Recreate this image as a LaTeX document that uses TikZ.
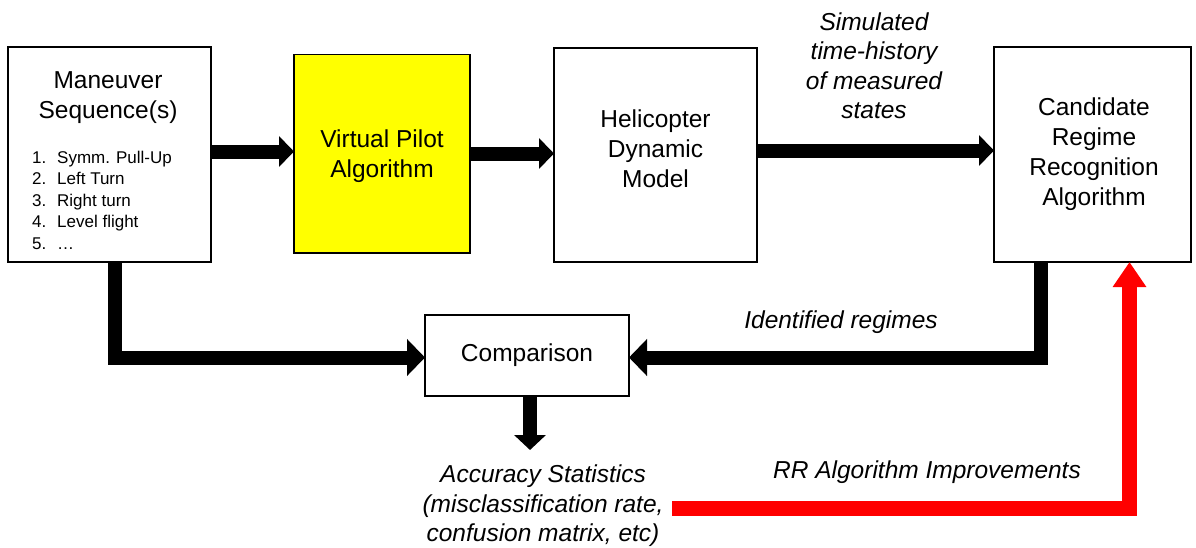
\documentclass[tikz,border=0pt]{standalone}
\usepackage{fontspec}
\setmainfont{Liberation Sans}
\usetikzlibrary{arrows.meta}
\definecolor{pilotyellow}{RGB}{255,255,0}
\definecolor{rrred}{RGB}{255,0,0}
\newcommand{\itemno}[1]{\makebox[25pt][l]{#1}}

\begin{document}
\begin{tikzpicture}[x=1pt,y=-1pt,
  box/.style={draw, line width=1.3pt, inner sep=0pt, outer sep=0pt},
  lbl/.style={font=\fontsize{24.5}{30}\selectfont, align=center, inner sep=0pt},
  ilbl/.style={font=\fontsize{24.5}{29.5}\selectfont\itshape, align=center, inner sep=0pt},
  listtxt/.style={font=\fontsize{17}{21.5}\selectfont, align=left, inner sep=0pt},
  flow/.style={line width=14pt, -{Triangle[length=15pt,width=30pt]}},
  elbow/.style={line width=14pt, -{Triangle[length=18pt,width=36pt]}},
  feedback/.style={draw=rrred, line width=15pt, -{Triangle[length=25pt,width=32pt]}, rrred},
]
\useasboundingbox (0,0) rectangle (1196,547);

% blocks
\node[box, minimum width=203pt, minimum height=215pt] (man) at (109.5,154.5) {};
\node[box, fill=pilotyellow, minimum width=176pt, minimum height=198.5pt] (vp) at (382,153.75) {};
\node[box, minimum width=203pt, minimum height=214pt] (heli) at (655.5,155) {};
\node[box, minimum width=197pt, minimum height=215pt] (cand) at (1092.5,154.5) {};
\node[box, minimum width=204pt, minimum height=81pt] (comp) at (527,355.5) {};

% block texts
\node[lbl] (mantitle) at (108,97.5) {Maneuver\\Sequence(s)};
\node[listtxt, anchor=west] (manlist) at (32,200) {%
  \itemno{1.}Symm.\hspace{6pt}Pull-Up\\
  \itemno{2.}Left Turn\\
  \itemno{3.}Right turn\\
  \itemno{4.}Level flight\\
  \itemno{5.}…};
\node[lbl] (vptxt) at (382,156) {Virtual Pilot\\Algorithm};
\node[lbl] (helitxt) at (655.5,149) {Helicopter\\Dynamic\\Model};
\node[lbl] (candtxt) at (1094,154) {Candidate\\Regime\\Recognition\\Algorithm};
\node[lbl] (comptxt) at (527,355) {Comparison};

% free labels
\node[ilbl] (simlbl) at (874,65.5) {Simulated\\time-history\\of measured\\states};
\node[ilbl] (idlbl) at (841,322.5) {Identified regimes};
\node[ilbl] (acclbl) at (543,506) {Accuracy Statistics\\(misclassification rate,\\confusion matrix, etc)};
\node[ilbl] (rrlbl) at (927,472.5) {RR Algorithm Improvements};

\coordinate (accin) at (530,450);
\coordinate (rrstart) at (672,508.5);

% main flow
\draw[flow] (man.east |- 0,151.5) -- (vp.west |- 0,151.5);
\draw[flow] (vp.east |- 0,153.5) -- (heli.west |- 0,153.5);
\draw[flow] (heli.east |- 0,150.5) -- (cand.west |- 0,150.5);

% into the comparison
\draw[elbow] (man.south -| 114.5,0) |- (comp.west |- 0,357.5);
\draw[elbow] (cand.south -| 1041,0) |- (comp.east |- 0,357.5);
\draw[line width=14pt, -{Triangle[length=15pt,width=31pt]}] (comp.south -| accin) -- (accin);

% feedback to the recognition algorithm
\draw[feedback] (rrstart) -| (cand.south -| 1129.5,0);
\end{tikzpicture}
\end{document}
